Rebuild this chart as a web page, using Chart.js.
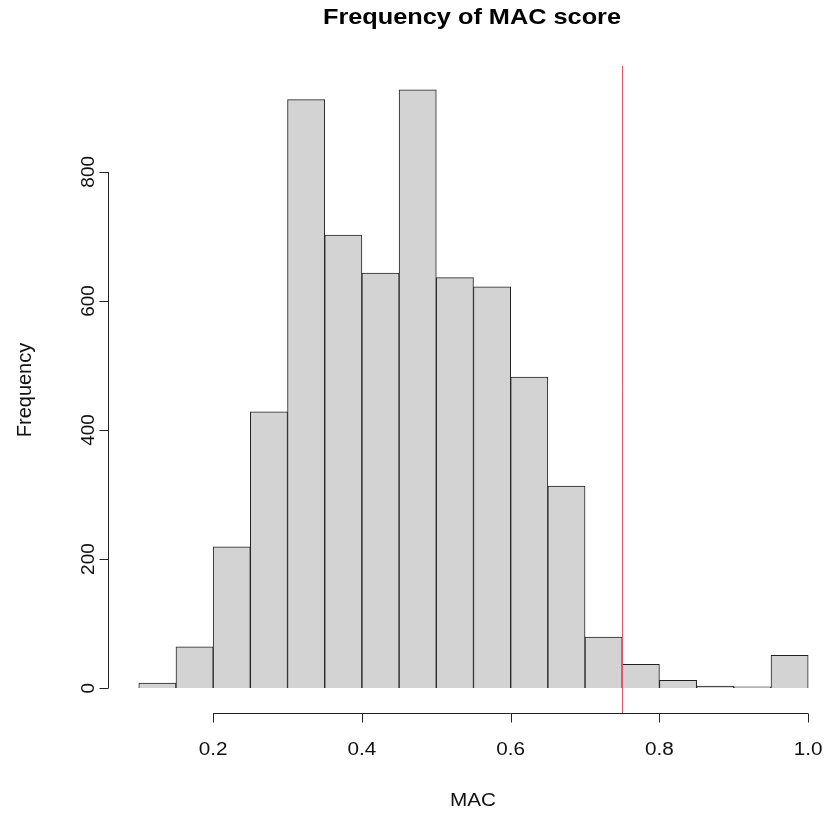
<!DOCTYPE html>
<html>
<head>
<meta charset="utf-8">
<script src="https://cdn.jsdelivr.net/npm/chart.js@4/dist/chart.umd.min.js"></script>
<style>
  html, body { margin: 0; padding: 0; background: #fff; }
  #wrap { width: 825px; height: 813px; }
</style>
</head>
<body>
<div id="wrap"><canvas id="hist"></canvas></div>
<script>
// histogram bins (MAC score, width 0.05)
const binCenters = [0.125, 0.175, 0.225, 0.275, 0.325, 0.375, 0.425, 0.475, 0.525,
                    0.575, 0.625, 0.675, 0.725, 0.775, 0.825, 0.875, 0.925, 0.975];
const counts = [8, 64, 219, 428, 912, 702, 643, 927, 636, 622, 482, 313, 79, 37, 12, 3, 2, 51];
const xTicks = [0.2, 0.4, 0.6, 0.8, 1.0];
const yTicks = [0, 200, 400, 600, 800];
const cutoff = 0.75;

const FONT = '"Liberation Sans", Arial, sans-serif';
const STRETCH = 1.15; // the reference text is a bit wider than tall

// text centred at (x, y), optional rotation, stretched along its own x
function drawText(ctx, txt, x, y, font, rot, sx) {
  ctx.save();
  ctx.font = font;
  ctx.translate(x, y);
  if (rot) ctx.rotate(rot);
  ctx.scale(sx, 1);
  ctx.fillText(txt, 0, 0);
  ctx.restore();
}

// R-style axes, titles and abline
const rAxes = {
  id: 'rAxes',
  afterDraw(chart) {
    const ctx = chart.ctx;
    const xs = chart.scales.x, ys = chart.scales.y;
    const area = chart.chartArea;
    ctx.save();
    ctx.strokeStyle = '#222';
    ctx.fillStyle = '#111';
    ctx.lineWidth = 1;
    ctx.textAlign = 'center';
    ctx.textBaseline = 'middle';

    // y axis
    const ax = Math.round(area.left - 4) + 0.5;
    ctx.beginPath();
    ctx.moveTo(ax, ys.getPixelForValue(yTicks[0]));
    ctx.lineTo(ax, ys.getPixelForValue(yTicks[yTicks.length - 1]));
    yTicks.forEach(v => {
      const p = Math.round(ys.getPixelForValue(v)) + 0.5;
      ctx.moveTo(ax, p);
      ctx.lineTo(ax - 9, p);
    });
    ctx.stroke();
    yTicks.forEach(v => {
      drawText(ctx, String(v), ax - 20, ys.getPixelForValue(v), '19px ' + FONT, -Math.PI / 2, 1);
    });

    // x axis
    const ay = Math.round(area.bottom + 1) + 0.5;
    ctx.beginPath();
    ctx.moveTo(xs.getPixelForValue(xTicks[0]), ay);
    ctx.lineTo(xs.getPixelForValue(xTicks[xTicks.length - 1]), ay);
    xTicks.forEach(v => {
      const p = Math.round(xs.getPixelForValue(v)) + 0.5;
      ctx.moveTo(p, ay);
      ctx.lineTo(p, ay + 9);
    });
    ctx.stroke();
    xTicks.forEach(v => {
      drawText(ctx, v.toFixed(1), xs.getPixelForValue(v), ay + 37, '18px ' + FONT, 0, STRETCH);
    });

    // axis titles
    drawText(ctx, 'MAC', 473, 801, '18px ' + FONT, 0, STRETCH);
    drawText(ctx, 'Frequency', 25, 390, '20px ' + FONT, -Math.PI / 2, 1);

    // main title
    ctx.fillStyle = '#000';
    drawText(ctx, 'Frequency of MAC score', 472, 18, 'bold 22px ' + FONT, 0, STRETCH);

    // cutoff line
    const cx = Math.round(xs.getPixelForValue(cutoff)) + 0.5;
    ctx.strokeStyle = '#DF536B';
    ctx.beginPath();
    ctx.moveTo(cx, area.top);
    ctx.lineTo(cx, area.bottom + 1);
    ctx.stroke();
    ctx.restore();
  }
};

new Chart(document.getElementById('hist'), {
  type: 'bar',
  data: {
    datasets: [{
      data: binCenters.map((c, i) => ({ x: c, y: counts[i] })),
      backgroundColor: '#D3D3D3',
      borderColor: '#222',
      borderWidth: 1,
      barPercentage: 1,
      categoryPercentage: 1
    }]
  },
  options: {
    responsive: true,
    maintainAspectRatio: false,
    animation: false,
    layout: { padding: { left: 112, right: 0, top: 66, bottom: 101 } },
    plugins: { legend: { display: false }, tooltip: { enabled: false } },
    scales: {
      x: { type: 'linear', offset: false, min: 0.064, max: 1.0226, display: false },
      y: { min: -37, max: 964, display: false }
    }
  },
  plugins: [rAxes]
});
</script>
</body>
</html>
